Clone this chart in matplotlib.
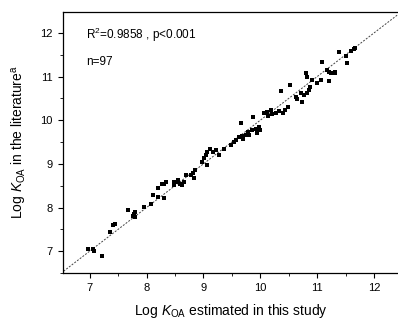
import matplotlib
matplotlib.use("Agg")
import matplotlib.pyplot as plt
import numpy as np
from matplotlib.ticker import MultipleLocator

# Log K_OA estimated in this study vs. literature values
x_est = [6.97, 7.06, 7.08, 7.22, 7.36, 7.41, 7.44, 7.67, 7.78, 7.79,
         7.80, 7.76, 7.96, 8.08, 8.12, 8.20, 8.30, 8.21, 8.28, 8.35,
         8.31, 8.49, 8.49, 8.55, 8.56, 8.59, 8.62, 8.66, 8.70, 8.78,
         8.81, 8.84, 8.86, 8.98, 9.01, 9.04, 9.07, 9.11, 9.07, 9.16,
         9.22, 9.28, 9.36, 9.48, 9.54, 9.58, 9.63, 9.67, 9.66, 9.70,
         9.74, 9.79, 9.80, 9.86, 9.92, 9.95, 9.98, 10.00, 9.87, 10.06,
         10.12, 10.18, 10.21, 10.27, 10.33, 10.39, 10.44, 10.49, 10.36, 10.53,
         10.62, 10.65, 10.71, 10.74, 10.77, 10.82, 10.85, 10.88, 10.80, 10.82,
         10.91, 11.00, 11.06, 11.09, 11.17, 11.20, 11.25, 11.31, 11.32, 11.20,
         11.39, 11.50, 11.53, 11.60, 11.64, 11.67, 10.13]
y_lit = [7.05, 7.04, 7.00, 6.89, 7.43, 7.60, 7.63, 7.94, 7.86, 7.79,
         7.90, 7.80, 8.02, 8.09, 8.28, 8.25, 8.21, 8.44, 8.54, 8.59,
         8.55, 8.51, 8.59, 8.64, 8.59, 8.55, 8.52, 8.58, 8.74, 8.74,
         8.78, 8.67, 8.87, 9.05, 9.13, 9.20, 9.28, 9.33, 8.97, 9.28,
         9.32, 9.20, 9.33, 9.43, 9.51, 9.55, 9.61, 9.64, 9.93, 9.58,
         9.66, 9.74, 9.66, 9.78, 9.81, 9.70, 9.85, 9.78, 10.07, 10.16,
         10.19, 10.23, 10.14, 10.17, 10.22, 10.16, 10.23, 10.31, 10.68, 10.81,
         10.54, 10.48, 10.62, 10.42, 10.58, 10.63, 10.69, 10.77, 11.08, 11.00,
         10.91, 10.85, 10.92, 11.34, 11.15, 11.11, 11.09, 11.09, 11.11, 10.90,
         11.57, 11.46, 11.30, 11.59, 11.62, 11.65, 10.10]

plt.rcParams['font.family'] = ['Liberation Sans', 'DejaVu Sans']
plt.rcParams['mathtext.fontset'] = 'custom'
plt.rcParams['mathtext.rm'] = 'Liberation Sans'
plt.rcParams['mathtext.it'] = 'Liberation Sans:italic'

fig = plt.figure(figsize=(3.98, 3.22), dpi=100)
ax = fig.add_axes([0.158, 0.152, 0.842, 0.811])

line = np.array([6.4, 12.6])
ax.plot(line, line, color='#444444', lw=0.7, ls=(0, (2, 1.5)), zorder=1)
ax.plot(x_est, y_lit, 's', color='black', ms=3.3, mew=0, zorder=2)

ax.set_xlim(6.53, 12.42)
ax.set_ylim(6.5, 12.48)
ax.xaxis.set_major_locator(MultipleLocator(1))
ax.yaxis.set_major_locator(MultipleLocator(1))
ax.xaxis.set_minor_locator(MultipleLocator(0.5))
ax.yaxis.set_minor_locator(MultipleLocator(0.5))
ax.tick_params(which='major', direction='out', length=3.5, width=0.8,
               labelsize=8, pad=4)
ax.tick_params(which='minor', direction='out', length=2, width=0.6)
ax.spines['right'].set_visible(False)
for s in ['left', 'top', 'bottom']:
    ax.spines[s].set_linewidth(0.9)

ax.text(0.07, 0.945, r'R$^2$=0.9858 , p<0.001', transform=ax.transAxes,
        fontsize=8.5, va='top')
ax.text(0.07, 0.83, 'n=97', transform=ax.transAxes, fontsize=8.5, va='top')

ax.set_xlabel(r'Log $K_{\rm OA}$ estimated in this study', fontsize=10,
              labelpad=6)
ax.set_ylabel(r'Log $K_{\rm OA}$ in the literature$^{\rm a}$', fontsize=10,
              labelpad=8)

fig.savefig('out.png', dpi=100, facecolor='white')
